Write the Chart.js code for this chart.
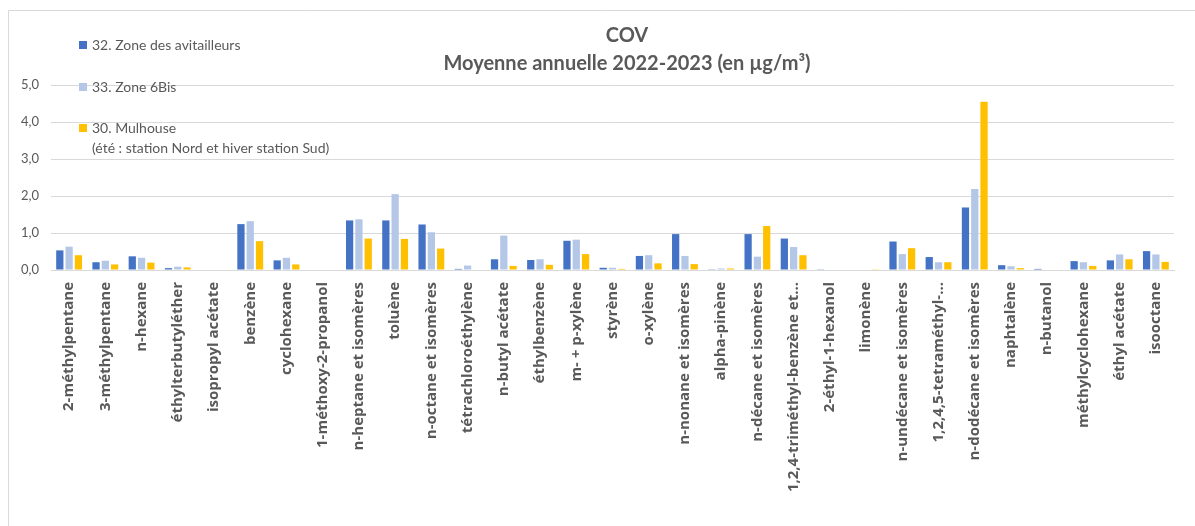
<!DOCTYPE html>
<html lang="fr">
<head>
<meta charset="utf-8">
<title>COV - Moyenne annuelle 2022-2023</title>
<script src="https://cdn.jsdelivr.net/npm/chart.js@4.4.1/dist/chart.umd.min.js"></script>
<style>
    html, body { margin: 0; padding: 0; background: #fff; }
    #wrap { position: relative; width: 1195px; height: 526px; }
</style>
</head>
<body>
<div id="wrap"><canvas id="covChart" width="1195" height="526"></canvas></div>
<script>
// Composés mesurés
const categories = [
    '2-méthylpentane', '3-méthylpentane', 'n-hexane', 'éthylterbutyléther', 'isopropyl acétate',
    'benzène', 'cyclohexane', '1-méthoxy-2-propanol', 'n-heptane et isomères', 'toluène',
    'n-octane et isomères', 'tétrachloroéthylène', 'n-butyl acétate', 'éthylbenzène', 'm- + p-xylène',
    'styrène', 'o-xylène', 'n-nonane et isomères', 'alpha-pinène', 'n-décane et isomères',
    '1,2,4-triméthyl-benzène et...', '2-éthyl-1-hexanol', 'limonène', 'n-undécane et isomères',
    '1,2,4,5-tetraméthyl-...', 'n-dodécane et isomères', 'naphtalène', 'n-butanol',
    'méthylcyclohexane', 'éthyl acétate', 'isooctane'
];

// Moyennes annuelles (µg/m³)
const zoneAvitailleurs = [0.53, 0.21, 0.37, 0.05, 0, 1.24, 0.26, 0, 1.34, 1.34, 1.23, 0.03, 0.29, 0.27, 0.79, 0.06,
    0.38, 0.97, 0.02, 0.97, 0.85, 0.02, 0, 0.77, 0.35, 1.69, 0.13, 0.03, 0.24, 0.26, 0.51];
const zone6Bis = [0.63, 0.25, 0.33, 0.09, 0, 1.32, 0.33, 0, 1.37, 2.05, 1.02, 0.12, 0.93, 0.29, 0.82, 0.06,
    0.40, 0.38, 0.04, 0.36, 0.62, 0, 0, 0.43, 0.21, 2.19, 0.10, 0, 0.21, 0.42, 0.42];
const mulhouse = [0.40, 0.15, 0.20, 0.07, 0, 0.78, 0.15, 0, 0.85, 0.84, 0.58, 0, 0.11, 0.14, 0.43, 0.03,
    0.18, 0.16, 0.04, 1.19, 0.40, 0, 0.02, 0.59, 0.21, 4.55, 0.05, 0, 0.11, 0.29, 0.22];

const seriesLabels = [
    ['32. Zone des avitailleurs'],
    ['33. Zone 6Bis'],
    ['30. Mulhouse', '(été : station Nord et hiver station Sud)']
];
const seriesColors = ['#4472C4', '#B4C7E7', '#FFC000'];
const titleLines = ['COV', 'Moyenne annuelle 2022-2023 (en µg/m³)'];

const TEXT = '#595959';
const GRID = '#d9d9d9';

// cadre, titre et légende dessinés à la main
const decorations = {
    id: 'decorations',
    beforeDraw(chart) {
        const ctx = chart.ctx;
        ctx.save();
        ctx.strokeStyle = GRID;
        ctx.lineWidth = 1;
        ctx.beginPath();
        ctx.moveTo(8.5, chart.height);
        ctx.lineTo(8.5, 10.5);
        ctx.lineTo(chart.width, 10.5);
        ctx.stroke();
        ctx.restore();
    },
    afterDraw(chart) {
        const ctx = chart.ctx;
        ctx.save();
        ctx.fillStyle = TEXT;
        ctx.textAlign = 'center';
        ctx.textBaseline = 'middle';
        ctx.font = 'bold 20px Lato';
        ctx.fillText(titleLines[0], 627, 36);
        ctx.fillText(titleLines[1], 627, 64);

        const rows = [45, 87, 128];
        ctx.textAlign = 'left';
        ctx.font = '14px Lato';
        chart.data.datasets.forEach((ds, i) => {
            const y = rows[i];
            ctx.fillStyle = ds.backgroundColor;
            ctx.fillRect(79, y - 4, 8, 8);
            ctx.fillStyle = TEXT;
            seriesLabels[i].forEach((line, j) => {
                ctx.fillText(line, 92, y + j * 20);
            });
        });
        ctx.restore();
    }
};

new Chart(document.getElementById('covChart'), {
    type: 'bar',
    data: {
        labels: categories,
        datasets: [zoneAvitailleurs, zone6Bis, mulhouse].map((values, i) => ({
            label: seriesLabels[i].join(' '),
            data: values,
            backgroundColor: seriesColors[i],
            categoryPercentage: 0.77,
            barPercentage: 0.78
        }))
    },
    options: {
        responsive: false,
        animation: false,
        layout: { padding: { top: 85, right: 21, left: 0, bottom: 0 } },
        plugins: {
            legend: { display: false },
            title: { display: false },
            tooltip: { enabled: false }
        },
        scales: {
            x: {
                grid: { display: false, drawTicks: false },
                border: { color: GRID },
                afterFit: (scale) => { scale.height = 256; },
                ticks: {
                    autoSkip: false,
                    minRotation: 90,
                    maxRotation: 90,
                    padding: 12,
                    color: TEXT,
                    font: { family: 'Open Sans', size: 15, weight: 'bold' }
                }
            },
            y: {
                min: 0,
                max: 5,
                grid: { color: GRID, drawTicks: false },
                border: { display: false },
                afterFit: (scale) => { scale.width = 51; },
                ticks: {
                    stepSize: 1,
                    padding: 12,
                    color: TEXT,
                    font: { family: 'Lato', size: 13 },
                    callback: (v) => v.toFixed(1).replace('.', ',')
                }
            }
        }
    },
    plugins: [decorations]
});
</script>
</body>
</html>
